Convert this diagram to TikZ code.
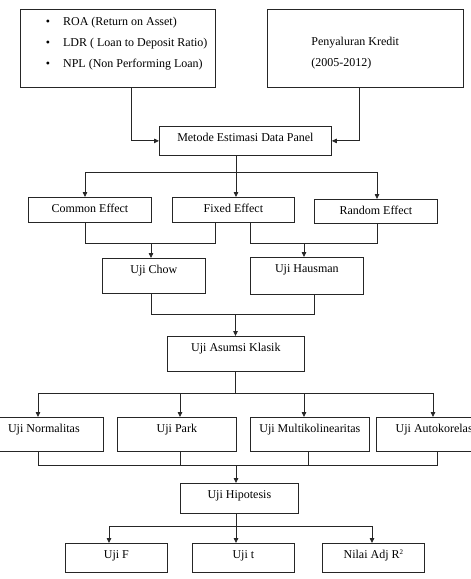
\documentclass[tikz,border=0pt]{standalone}
\usepackage{fontspec}
\setmainfont{Liberation Serif}
\usetikzlibrary{arrows.meta}
\begin{document}
\begin{tikzpicture}[x=1bp,y=-1bp,
  font=\fontsize{12bp}{14bp}\selectfont,
  line width=0.8bp, draw=black!85,
  plain/.style={draw, anchor=north west, inner sep=0pt},
  bx/.style 2 args={draw, anchor=north west, inner sep=0pt, minimum width=#1bp, text height=15.5bp, text depth=#2bp},
  txt/.style={anchor=base west, inner sep=0pt},
  arr/.style={-{Triangle[length=5bp,width=4.5bp]}}]
\useasboundingbox (0,0) rectangle (471,579);
\clip (0,0) rectangle (471,579);
% top boxes
\node[plain, minimum width=195bp, minimum height=78bp] (A) at (20,9) {};
\node[plain, minimum width=196bp, minimum height=78bp] (B) at (267,9) {};
\node[txt] (a1) at (45.5,26) {\textbullet\hspace{13bp}ROA (Return on Asset)};
\node[txt] (a2) at (45.5,47) {\textbullet\hspace{13bp}LDR ( Loan to Deposit Ratio)};
\node[txt] (a3) at (45.5,68) {\textbullet\hspace{13bp}NPL (Non Performing Loan)};
\node[txt] (b1) at (311,46) {Penyaluran Kredit};
\node[txt] (b2) at (311,67) {(2005-2012)};
% boxes
\node[bx={172}{13.5}] (M) at (159,126) {Metode Estimasi Data Panel};
\node[bx={123}{9.5}] (CE) at (28,197) {Common Effect};
\node[bx={122}{9.5}] (FE) at (172,197) {Fixed Effect};
\node[bx={123}{8.5}] (RE) at (314,199) {Random Effect};
\node[bx={103}{19.5}] (CH) at (102,258) {Uji Chow};
\node[bx={113}{21.5}] (HA) at (250,257) {Uji Hausman};
\node[bx={137}{19.5}] (AK) at (167,336) {Uji Asumsi Klasik};
\node[bx={119}{18.5}] (NO) at (-16,417) {Uji Normalitas};
\node[bx={119}{18.5}] (PA) at (117,417) {Uji Park};
\node[bx={119}{18.5}] (MU) at (250,417) {Uji Multikolinearitas};
\node[bx={119}{18.5}] (AU) at (376,417) {Uji Autokorelasi};
\node[bx={118}{14.5}] (HI) at (180,483) {Uji Hipotesis};
\node[bx={102}{13.5}] (UF) at (65,543) {Uji F};
\node[bx={102}{13.5}] (UT) at (192,543) {Uji t};
\node[bx={102}{13.5}] (UR) at (322,543) {Nilai Adj R\raisebox{4.2bp}{\fontsize{7bp}{8bp}\selectfont 2}};
% connectors
\draw[arr] (A.south west) ++(111,0) |- (M.west);
\draw[arr] (B.south west) ++(92,0) |- (M.east);
\coordinate (j1) at (236,172);
\coordinate (jL) at (85,172);
\coordinate (jR) at (377,172);
\draw (M.south -| j1) -- (j1);
\draw (jL) -- (jR);
\draw[arr] (jL) -- (jL |- CE.north);
\draw[arr] (j1) -- (j1 |- FE.north);
\draw[arr] (jR) -- (jR |- RE.north);
\coordinate (c1) at (85,243);
\coordinate (c2) at (215,243);
\coordinate (c3) at (151,243);
\draw (c1 |- CE.south) -- (c1) -- (c2) -- (c2 |- FE.south);
\draw[arr] (c3) -- (c3 |- CH.north);
\coordinate (h1) at (250,243);
\coordinate (h2) at (377,243);
\coordinate (h3) at (304,243);
\draw (h1 |- FE.south) -- (h1) -- (h2) -- (h2 |- RE.south);
\draw[arr] (h3) -- (h3 |- HA.north);
\coordinate (k1) at (151,314);
\coordinate (k2) at (314,314);
\coordinate (k3) at (235.5,314);
\draw (k1 |- CH.south) -- (k1) -- (k2) -- (k2 |- HA.south);
\draw[arr] (k3) -- (k3 |- AK.north);
\coordinate (m0) at (235.5,393);
\coordinate (m1) at (38,393);
\coordinate (m2) at (180,393);
\coordinate (m3) at (304,393);
\coordinate (m4) at (433,393);
\draw (AK.south -| m0) -- (m0);
\draw (m1) -- (m4);
\draw[arr] (m1) -- (m1 |- NO.north);
\draw[arr] (m2) -- (m2 |- PA.north);
\draw[arr] (m3) -- (m3 |- MU.north);
\draw[arr] (m4) -- (m4 |- AU.north);
\coordinate (n0) at (236,465);
\coordinate (n1) at (38,465);
\coordinate (n2) at (180,465);
\coordinate (n3) at (308,465);
\coordinate (n4) at (437,465);
\draw (n1 |- NO.south) -- (n1) -- (n4) -- (n4 |- AU.south);
\draw (n2 |- PA.south) -- (n2);
\draw (n3 |- MU.south) -- (n3);
\draw[arr] (n0) -- (n0 |- HI.north);
\coordinate (p0) at (236,526);
\coordinate (p1) at (109,526);
\coordinate (p2) at (372,526);
\draw (HI.south -| p0) -- (p0);
\draw (p1) -- (p2);
\draw[arr] (p1) -- (p1 |- UF.north);
\draw[arr] (p0) -- (p0 |- UT.north);
\draw[arr] (p2) -- (p2 |- UR.north);
\end{tikzpicture}
\end{document}
